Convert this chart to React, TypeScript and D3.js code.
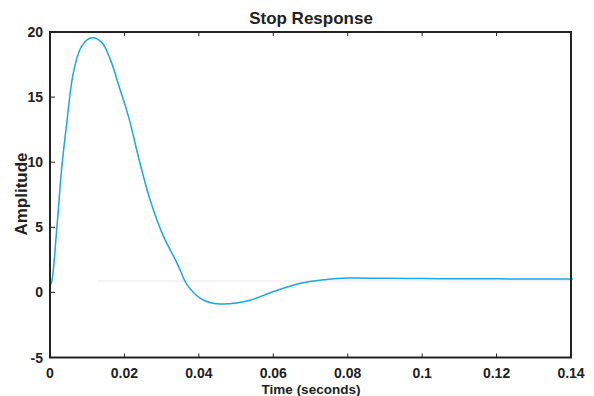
import React from "react";
import * as d3 from "d3";

const timeValues = [0, 0.00045, 0.0018, 0.0031, 0.0045, 0.0063, 0.0085, 0.0112, 0.0139, 0.0162, 0.0188, 0.0211, 0.0242, 0.0269, 0.0305, 0.0337, 0.035, 0.0368, 0.0404, 0.0435, 0.0467, 0.05, 0.0538, 0.0601, 0.0673, 0.073, 0.0799, 0.09, 0.1, 0.11, 0.12, 0.13, 0.1405];
const ampValues = [0.5, 0.8, 4.8, 9.4, 13.0, 16.9, 18.9, 19.55, 19.2, 17.9, 15.6, 13.5, 9.9, 7.1, 4.3, 2.5, 1.7, 0.6, -0.45, -0.82, -0.9, -0.82, -0.6, 0.07, 0.7, 0.96, 1.1, 1.08, 1.06, 1.05, 1.04, 1.03, 1.02];
const xTicks = [0, 0.02, 0.04, 0.06, 0.08, 0.1, 0.12, 0.14];
const yTicks = [-5, 0, 5, 10, 15, 20];

const W = 594, H = 396;
const L = 50, R = 571, T = 32, B = 357.5;

export default function App() {
  const x = d3.scaleLinear().domain([0, 0.14]).range([L, R]);
  const y = d3.scaleLinear().domain([-5, 20]).range([B, T]);
  const line = d3.line<number>()
    .x((_, i) => x(timeValues[i]))
    .y((d) => y(d))
    .curve(d3.curveCatmullRom.alpha(0.5));
  const font = "'Liberation Sans', Arial, sans-serif";
  return (
    <svg width={W} height={H} style={{ position: "absolute", left: 0, top: 0, background: "#fff" }}>
      <line x1={x(0.0127)} x2={x(0.14)} y1={y(0.88)} y2={y(0.88)} stroke="#f0f0f0" strokeWidth={1.5} />
      <path d={line(ampValues) || ""} fill="none" stroke="#1aa7e4" strokeWidth={1.5} />
      <rect x={L} y={T} width={R - L} height={B - T} fill="none" stroke="#222" strokeWidth={2} />
      {xTicks.map((t) => (
        <g key={"x" + t}>
          <line x1={x(t)} x2={x(t)} y1={B} y2={B - 4} stroke="#222" strokeWidth={1} />
          <line x1={x(t)} x2={x(t)} y1={T} y2={T + 4} stroke="#222" strokeWidth={1} />
          <text x={x(t)} y={378} textAnchor="middle" fontFamily={font} fontWeight="bold" fontSize={14} fill="#222">
            {String(t)}
          </text>
        </g>
      ))}
      {yTicks.map((t) => (
        <g key={"y" + t}>
          <line x1={L} x2={L + 5} y1={y(t)} y2={y(t)} stroke="#222" strokeWidth={1} />
          <text x={43} y={y(t) + 5} textAnchor="end" fontFamily={font} fontWeight="bold" fontSize={14} fill="#222">
            {String(t)}
          </text>
        </g>
      ))}
      <text x={311} y={24} textAnchor="middle" fontFamily={font} fontWeight="bold" fontSize={17} fill="#222">Stop Response</text>
      <text x={311} y={393.5} textAnchor="middle" fontFamily={font} fontWeight="bold" fontSize={13.5} fill="#222">Time (seconds)</text>
      <text transform="translate(27,194) rotate(-90)" textAnchor="middle" fontFamily={font} fontWeight="bold" fontSize={17} fill="#222">Amplitude</text>
    </svg>
  );
}
